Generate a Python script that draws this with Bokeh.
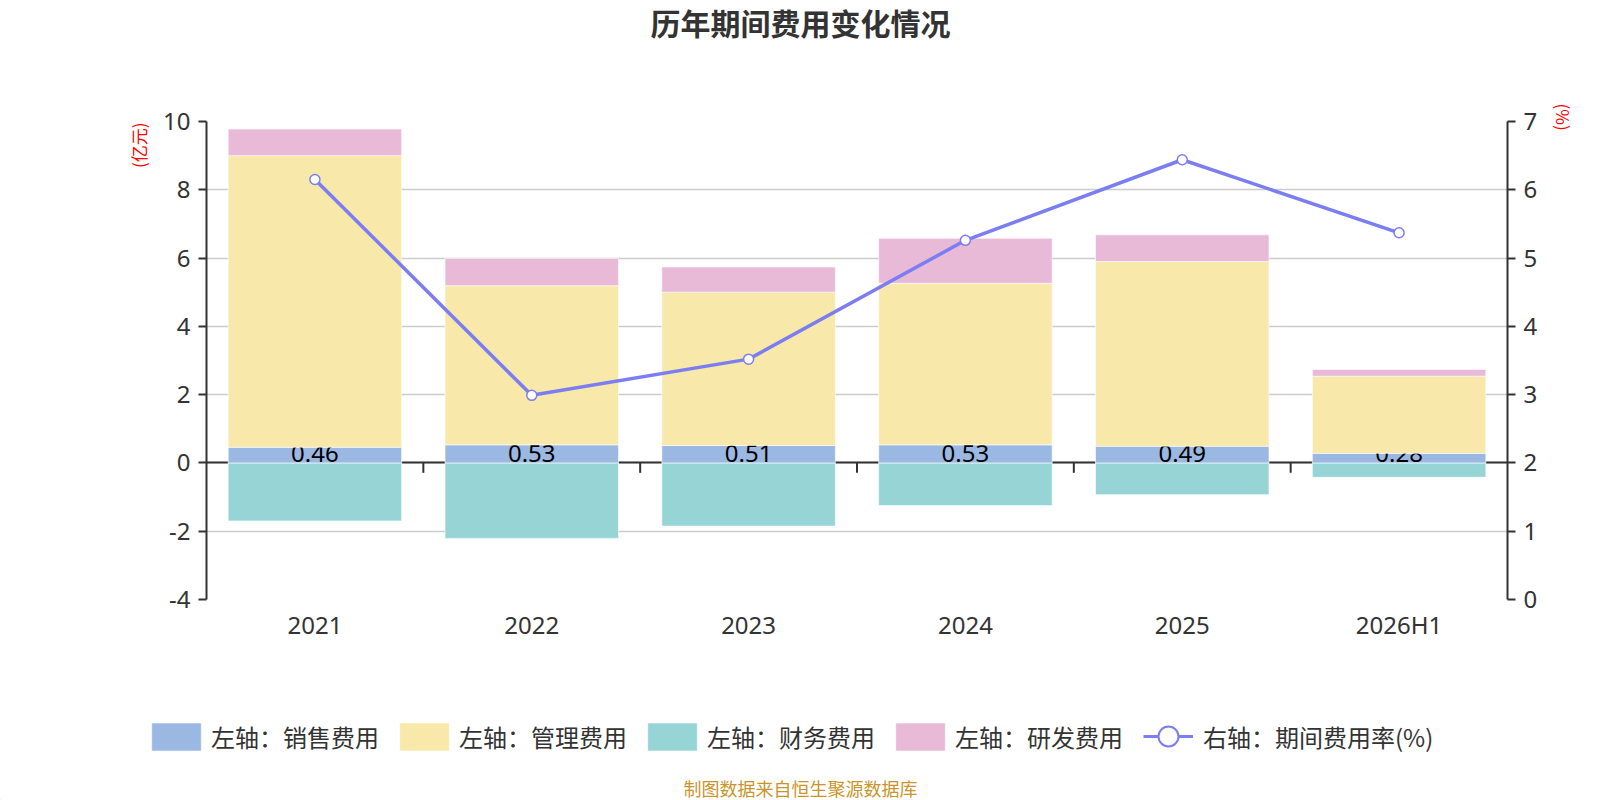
import numpy as np
from bokeh.plotting import figure
from bokeh.layouts import column
from bokeh.models import (FactorRange, Range1d, LinearAxis, FixedTicker, Legend,
                          LegendItem, Label, Title, ColumnDataSource, Plot)
from bokeh.core.properties import value
from bokeh.embed import file_html
from bokeh.resources import INLINE

# ---------------- data ----------------
categories = ["2021", "2022", "2023", "2024", "2025", "2026H1"]
sales = [0.46, 0.53, 0.51, 0.53, 0.49, 0.28]          # 销售费用 (亿元)
management = [8.54, 4.66, 4.49, 4.73, 5.41, 2.26]     # 管理费用
finance = [-1.70, -2.21, -1.85, -1.25, -0.93, -0.42]  # 财务费用
rnd = [0.78, 0.80, 0.74, 1.32, 0.78, 0.20]            # 研发费用
expense_rate = [6.15, 2.99, 3.52, 5.26, 6.44, 5.37]   # 期间费用率 (%)
left_ticks = [-4, -2, 0, 2, 4, 6, 8, 10]
right_ticks = [0, 1, 2, 3, 4, 5, 6, 7]
series_names = ["左轴：销售费用", "左轴：管理费用", "左轴：财务费用",
                "左轴：研发费用", "右轴：期间费用率(%)"]

# ---------------- styling ----------------
CJK = "Noto Sans CJK SC"
NUM = "Noto Sans"
C_SALES = "#9bb8e2"
C_MGMT = "#f8e8a9"
C_FIN = "#96d4d5"
C_RND = "#e8bad8"
C_LINE = "#7b7ef2"
AX = "#333333"
W = 1584
HT = 95      # title strip
HM = 595     # main chart
HB = 110     # legend strip
HAS_FA = "frame_align" in Plot.properties()

s = np.array(sales)
m = np.array(management)
r = np.array(rnd)
src = ColumnDataSource(dict(
    cat=categories,
    sales_top=s, mgmt_bottom=s, mgmt_top=s + m,
    rnd_bottom=s + m, rnd_top=s + m + r,
    fin=finance, zero=[0.0] * len(categories),
    lab=[f"{v:.2f}" for v in sales],
    rate=expense_rate,
))


def strip(h):
    f = figure(width=W, height=h, x_range=Range1d(0, W), y_range=Range1d(0, h),
               output_backend="svg", toolbar_location=None, title=None,
               x_axis_type=None, y_axis_type=None,
               min_border_left=0, min_border_right=0, min_border_top=0,
               min_border_bottom=0)
    f.outline_line_color = None
    f.grid.visible = False
    f.background_fill_color = "white"
    f.border_fill_color = "white"
    if HAS_FA:
        f.frame_align = False
    return f


# ---------------- title strip ----------------
t = strip(HT)
t.add_layout(Label(x=800, y=HT - 21, text="历年期间费用变化情况",
                   text_align="center", text_baseline="middle",
                   text_font=CJK, text_font_size="30px",
                   text_font_style="bold", text_color=AX))

# ---------------- main chart ----------------
p = figure(x_range=FactorRange(factors=categories), y_range=Range1d(-4, 10),
           width=W, height=HM, output_backend="svg", toolbar_location=None,
           title=None,
           min_border_left=206, min_border_right=77, min_border_top=121 - HT,
           min_border_bottom=HM - (599 - HT))
if HAS_FA:
    p.frame_align = False
p.extra_y_ranges = {"right": Range1d(0, 7)}
p.outline_line_color = None
p.background_fill_color = "white"
p.border_fill_color = "white"

p.xgrid.visible = False
p.ygrid.ticker = FixedTicker(ticks=left_ticks)
p.ygrid.grid_line_color = "#cccccc"
p.ygrid.grid_line_width = 1.5


def style_axis(ax):
    ax.axis_line_color = AX
    ax.axis_line_width = 2
    ax.major_tick_line_color = AX
    ax.major_tick_line_width = 2
    ax.major_tick_out = 8
    ax.major_tick_in = 0
    ax.minor_tick_line_color = None
    ax.major_label_text_font = NUM
    ax.major_label_text_font_size = "24px"
    ax.major_label_text_color = AX
    ax.major_label_standoff = 8


# left axis
ya = p.yaxis[0]
ya.ticker = FixedTicker(ticks=left_ticks)
style_axis(ya)
ya.major_label_overrides = {-4: "-4", -2: "-2"}

# right axis
ra = LinearAxis(y_range_name="right", ticker=FixedTicker(ticks=right_ticks))
style_axis(ra)
p.add_layout(ra, "right")

# unit labels next to the top of each axis
p.add_layout(Title(text="(亿元)", align="right", offset=1, standoff=20,
                   text_font=CJK, text_font_size="17px",
                   text_font_style="normal", text_color="red"), "left")
p.add_layout(Title(text="(%)", align="left", offset=-18, standoff=16,
                   vertical_align="top",
                   text_font=CJK, text_font_size="17px",
                   text_font_style="normal", text_color="red"), "right")

# category axis (labels only)
xa = p.xaxis[0]
xa.axis_line_color = None
xa.major_tick_line_color = None
xa.major_tick_out = 0
xa.minor_tick_line_color = None
xa.major_label_text_font = NUM
xa.major_label_text_font_size = "24px"
xa.major_label_text_color = AX
xa.major_label_standoff = 8

# zero line with category-boundary ticks
p.hspan(y=[0], line_color=AX, line_width=2)
bounds = list(range(1, len(categories)))
p.segment(x0=bounds, x1=bounds, y0=[0] * len(bounds), y1=[-0.29] * len(bounds),
          line_color=AX, line_width=2)

BW = 0.8
bar_line = dict(line_color="white", line_alpha=0.6, line_width=1)
p.vbar(x="cat", top="zero", bottom="fin", width=BW, fill_color=C_FIN,
       source=src, **bar_line)
p.vbar(x="cat", top="sales_top", bottom="zero", width=BW,
       fill_color=C_SALES, source=src, **bar_line)
p.text(x="cat", y="zero", text="lab", source=src, text_align="center",
       text_baseline="bottom", y_offset=-1, text_color="black",
       text_font=value(NUM), text_font_size="24px")
p.vbar(x="cat", top="mgmt_top", bottom="mgmt_bottom", width=BW,
       fill_color=C_MGMT, source=src, **bar_line)
p.vbar(x="cat", top="rnd_top", bottom="rnd_bottom", width=BW,
       fill_color=C_RND, source=src, **bar_line)

p.line(x="cat", y="rate", source=src, y_range_name="right",
       line_color=C_LINE, line_width=3.5)
p.scatter(x="cat", y="rate", source=src, y_range_name="right",
          marker="circle", size=10, fill_color="white",
          line_color=C_LINE, line_width=1.5)

# ---------------- legend strip ----------------
q = strip(HB)
off = [-1000]          # swatch renderers sit outside the visible range
k_sales = q.vbar(x=off, top=[1], width=1, fill_color=C_SALES, **bar_line)
k_mgmt = q.vbar(x=off, top=[1], width=1, fill_color=C_MGMT, **bar_line)
k_fin = q.vbar(x=off, top=[1], width=1, fill_color=C_FIN, **bar_line)
k_rnd = q.vbar(x=off, top=[1], width=1, fill_color=C_RND, **bar_line)
k_line = q.line(x=[-1000, -999], y=[1, 1], line_color=C_LINE, line_width=3)
k_pts = q.scatter(x=off, y=[1], marker="circle", fill_color="white",
                  line_color=C_LINE, line_width=2)


def style_legend(lg):
    lg.orientation = "horizontal"
    lg.border_line_color = None
    lg.background_fill_alpha = 0
    lg.padding = 0
    lg.margin = 0
    lg.label_text_font = CJK
    lg.label_text_font_size = "24px"
    lg.label_text_color = AX


lg1 = Legend(items=[
    LegendItem(label=series_names[0], renderers=[k_sales]),
    LegendItem(label=series_names[1], renderers=[k_mgmt]),
    LegendItem(label=series_names[2], renderers=[k_fin]),
    LegendItem(label=series_names[3], renderers=[k_rnd]),
], location=(145, 46))
style_legend(lg1)
lg1.glyph_width = 62
lg1.glyph_height = 35
lg1.label_height = 35
lg1.label_standoff = 4
lg1.spacing = 14
q.add_layout(lg1, "center")

lg2 = Legend(items=[
    LegendItem(label=series_names[4], renderers=[k_line, k_pts]),
], location=(1143, 39))
style_legend(lg2)
lg2.glyph_width = 50
lg2.glyph_height = 50
lg2.label_height = 50
lg2.label_standoff = 10
q.add_layout(lg2, "center")

q.add_layout(Label(x=800, y=13, text="制图数据来自恒生聚源数据库",
                   text_align="center", text_baseline="middle",
                   text_font=CJK, text_font_size="18px",
                   text_color="#c9952b"))

layout = column(t, p, q, spacing=0)
open("out.html", "w").write(file_html(layout, INLINE))
